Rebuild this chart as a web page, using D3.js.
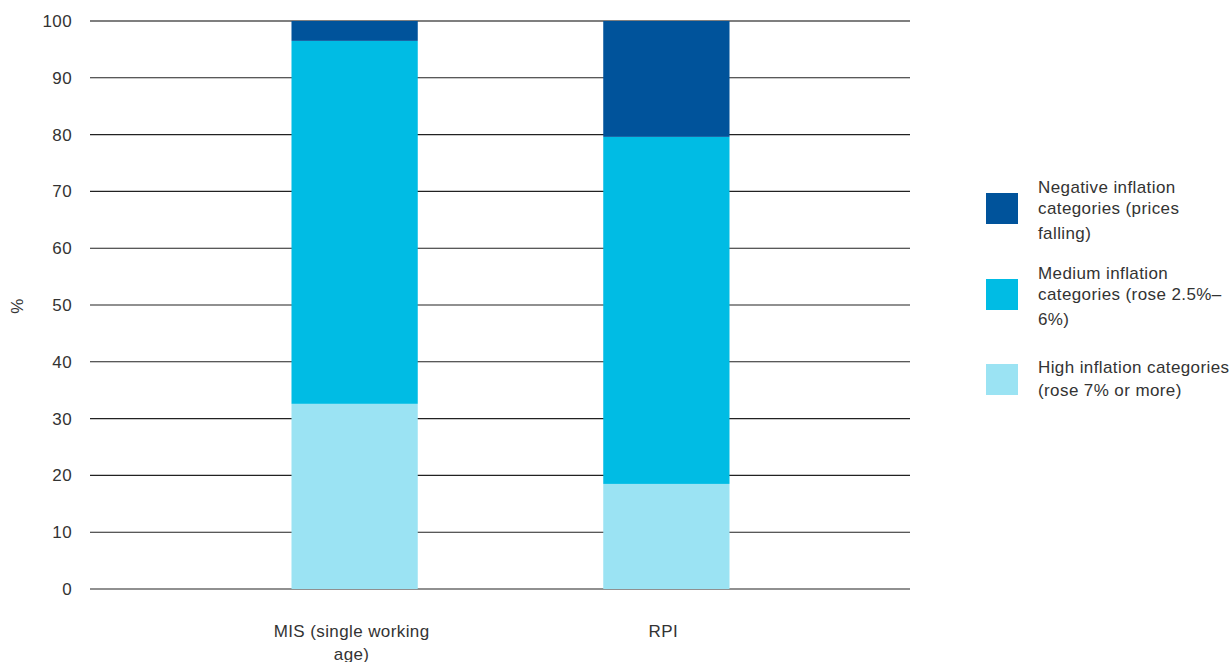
<!DOCTYPE html>
<html><head><meta charset="utf-8">
<script src="https://cdn.jsdelivr.net/npm/d3@7"></script>
<style>body{margin:0;background:#fff;}svg{display:block;font-family:"Liberation Sans",Arial,sans-serif;}text{letter-spacing:0.4px;}</style>
</head><body>
<svg id="c" width="1230" height="662"></svg>
<script>
const categories = ["MIS (single working age)", "RPI"];
const catLines = [["MIS (single working", "age)"], ["RPI"]];
const seriesNames = ["High inflation categories (rose 7% or more)", "Medium inflation categories (rose 2.5%–6%)", "Negative inflation categories (prices falling)"];
const high = [32.6, 18.5];
const medium = [63.9, 61.1];
const negative = [3.5, 20.4];
const yTicks = [0,10,20,30,40,50,60,70,80,90,100];
const colors = ["#9be3f3", "#00bce4", "#00539b"];
const legendItems = [
  {lines:["Negative inflation","categories (prices","falling)"], ci:2},
  {lines:["Medium inflation","categories (rose 2.5%–","6%)"], ci:1},
  {lines:["High inflation categories","(rose 7% or more)"], ci:0}
];

const FS = 17;
const svg = d3.select("#c");
const y = d3.scaleLinear().domain([0,100]).range([589,21]);
const x = d3.scaleBand().domain(categories).range([106,915]).paddingInner(0.595).paddingOuter(0.595);

// gridlines
svg.append("g").selectAll("line").data(yTicks).join("line")
  .attr("x1",90).attr("x2",910).attr("y1",d=>y(d)).attr("y2",d=>y(d))
  .attr("stroke",d=>d===100?"#555":"#222").attr("stroke-width",d=>d===100?1.4:1.1);

// y labels
svg.append("g").selectAll("text").data(yTicks).join("text")
  .attr("x",72).attr("y",d=>y(d)+6).attr("text-anchor","end")
  .attr("font-size",FS).attr("fill","#333").text(d=>d);

svg.append("text").attr("transform","translate(23,306) rotate(-90)")
  .attr("text-anchor","middle").attr("font-size",FS).attr("fill","#333").text("%");

// stacked bars
const rows = categories.map((c,i)=>({cat:c, high:high[i], medium:medium[i], negative:negative[i]}));
const stack = d3.stack().keys(["high","medium","negative"])(rows);
svg.append("g").selectAll("g").data(stack).join("g").attr("fill",(d,i)=>colors[i])
  .selectAll("rect").data(d=>d).join("rect")
  .attr("x",d=>x(d.data.cat)).attr("width",x.bandwidth())
  .attr("y",d=>y(d[1])).attr("height",d=>y(d[0])-y(d[1]));

// x labels
categories.forEach((c,i)=>{
  const t = svg.append("text").attr("text-anchor","middle").attr("font-size",FS).attr("fill","#333");
  catLines[i].forEach((l,j)=>{
    t.append("tspan").attr("x",x(c)+x.bandwidth()/2-3).attr("y",637+j*23).text(l);
  });
});

// legend
const ly = [193, 279, 364];
legendItems.forEach((it,k)=>{
  svg.append("rect").attr("x",986).attr("y",ly[k]).attr("width",32).attr("height",31).attr("fill",colors[it.ci]);
  const t = svg.append("text").attr("font-size",FS).attr("fill","#333");
  const offs = it.lines.length===3 ? [0,21,46] : [9,32];
  it.lines.forEach((l,j)=>{
    t.append("tspan").attr("x",1038).attr("y",ly[k]+offs[j]).text(l);
  });
});
</script>
</body></html>
